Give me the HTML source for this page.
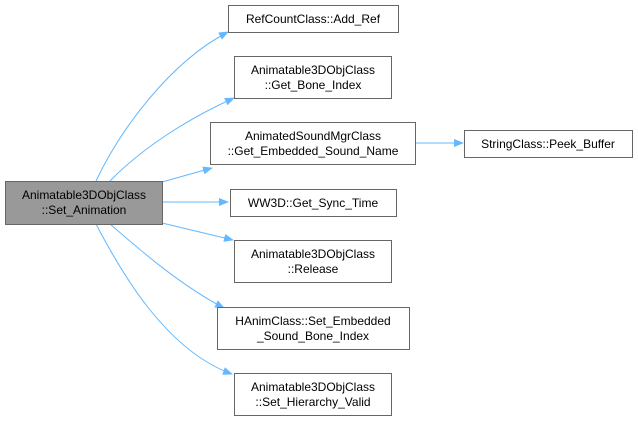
<!DOCTYPE html>
<html><head><meta charset="utf-8"><style>
html,body{margin:0;padding:0;background:#fff;}
svg{display:block;}
text{font-family:"Liberation Sans",Arial,sans-serif;font-size:12px;fill:#000;}
</style></head><body>
<svg width="638" height="421" viewBox="0 0 638 421" xmlns="http://www.w3.org/2000/svg">
<defs>
<marker id="a" markerWidth="10" markerHeight="8" refX="9" refY="4" orient="auto" markerUnits="userSpaceOnUse">
<path d="M0,0 L10,4 L0,8 Z" fill="#63b8ff"/>
</marker>
</defs>
<g fill="none" stroke="#63b8ff" stroke-width="1" marker-end="url(#a)">
<path d="M96,181 C120,130 170,62 228,32"/>
<path d="M110,181 C140,150 185,120 234,98"/>
<path d="M162,182 L212,168"/>
<path d="M162,202 L228,202"/>
<path d="M162,223 L233,240"/>
<path d="M110,224 C140,250 180,285 224,308"/>
<path d="M96,224 C120,270 165,350 232,374"/>
<path d="M415,143 L463,143"/>
</g>
<g stroke="#666" stroke-width="1">
<rect x="5.5" y="181.5" width="157" height="43" fill="#999"/>
<rect x="228.5" y="5.5" width="170" height="27" fill="#fff"/>
<rect x="234.5" y="56.5" width="157" height="42" fill="#fff"/>
<rect x="210.5" y="122.5" width="205" height="42" fill="#fff"/>
<rect x="230.5" y="189.5" width="166" height="27" fill="#fff"/>
<rect x="234.5" y="240.5" width="157" height="42" fill="#fff"/>
<rect x="217.5" y="307.5" width="192" height="42" fill="#fff"/>
<rect x="234.5" y="373.5" width="157" height="42" fill="#fff"/>
<rect x="464.5" y="130.5" width="168" height="27" fill="#fff"/>
</g>
<g text-anchor="middle">
<text x="84" y="199">Animatable3DObjClass</text>
<text x="84" y="214">::Set_Animation</text>
<text x="313" y="23">RefCountClass::Add_Ref</text>
<text x="313" y="74">Animatable3DObjClass</text>
<text x="313" y="89">::Get_Bone_Index</text>
<text x="313" y="140">AnimatedSoundMgrClass</text>
<text x="313" y="155">::Get_Embedded_Sound_Name</text>
<text x="313" y="207">WW3D::Get_Sync_Time</text>
<text x="313" y="258">Animatable3DObjClass</text>
<text x="313" y="273">::Release</text>
<text x="313" y="325">HAnimClass::Set_Embedded</text>
<text x="313" y="340">_Sound_Bone_Index</text>
<text x="313" y="391">Animatable3DObjClass</text>
<text x="313" y="406">::Set_Hierarchy_Valid</text>
<text x="548" y="148">StringClass::Peek_Buffer</text>
</g>
</svg>
</body></html>
